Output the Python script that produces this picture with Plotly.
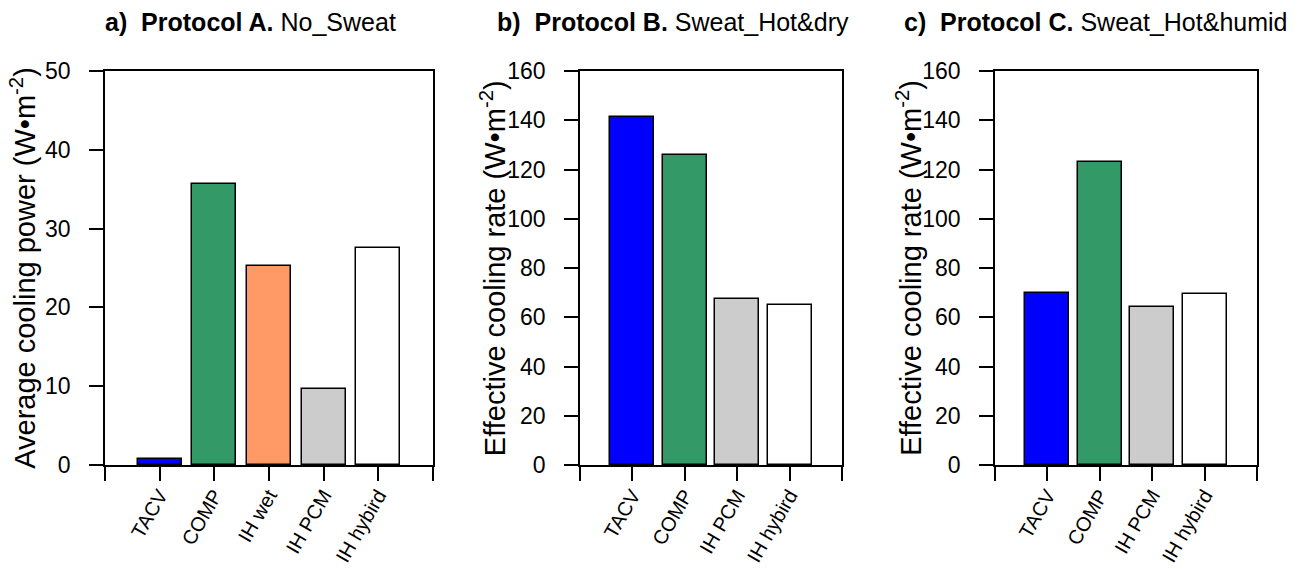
import plotly.graph_objects as go

# ---- data ----
cats_a = ["TACV", "COMP", "IH wet", "IH PCM", "IH hybird"]
vals_a = [0.8, 35.6, 25.3, 9.6, 27.6]
cols_a = ["#0000FF", "#339966", "#FF9966", "#CCCCCC", "#FFFFFF"]

cats_b = ["TACV", "COMP", "IH PCM", "IH hybird"]
vals_b = [141.3, 125.7, 67.3, 65.0]
cols_b = ["#0000FF", "#339966", "#CCCCCC", "#FFFFFF"]

cats_c = ["TACV", "COMP", "IH PCM", "IH hybird"]
vals_c = [70.0, 123.0, 64.0, 69.5]
cols_c = ["#0000FF", "#339966", "#CCCCCC", "#FFFFFF"]

ticks_a = [0, 10, 20, 30, 40, 50]
ticks_bc = [0, 20, 40, 60, 80, 100, 120, 140, 160]

titles = [
    ("<b>a)&nbsp; Protocol A.</b> No_Sweat", 0.1925),
    ("<b>b)&nbsp; Protocol B.</b> Sweat_Hot&amp;dry", 0.5165),
    ("<b>c)&nbsp; Protocol C.</b> Sweat_Hot&amp;humid", 0.841),
]
ytitles = [
    ("Average cooling power (W•m<sup>-2</sup>)", 0.0175),
    ("Effective cooling rate (W•m<sup>-2</sup>)", 0.3785),
    ("Effective cooling rate (W•m<sup>-2</sup>)", 0.6975),
]

W, H = 1303, 569
FONT = "Liberation Sans, Arial, sans-serif"

fig = go.Figure()

panels = [
    (cats_a, vals_a, cols_a, 0.81, [0, 50], ticks_a, (105, 433), "x", "y"),
    (cats_b, vals_b, cols_b, 0.84, [0, 160], ticks_bc, (580, 842), "x2", "y2"),
    (cats_c, vals_c, cols_c, 0.84, [0, 160], ticks_bc, (995, 1257), "x3", "y3"),
]

ydom = [1 - 465 / H, 1 - 71 / H]

for i, (cats, vals, cols, bw, yr, yt, (xl, xr), xa, ya) in enumerate(panels):
    n = len(cats)
    xs = list(range(1, n + 1))
    fig.add_trace(go.Bar(
        x=xs, y=vals, width=bw, xaxis=xa, yaxis=ya,
        marker=dict(color=cols, line=dict(color="black", width=1.5)),
        showlegend=False, hoverinfo="x+y",
    ))
    sfx = "" if i == 0 else str(i + 1)
    fig.layout["xaxis" + sfx] = dict(
        domain=[xl / W, xr / W], range=[0, n + 1], anchor=ya,
        tickvals=list(range(0, n + 2)), ticktext=[""] + cats + [""],
        tickangle=-60, ticks="outside", ticklen=14, tickwidth=1.5,
        tickcolor="black", showline=True, linecolor="black", linewidth=1.5,
        mirror=True, showgrid=False, zeroline=False, automargin=False,
        ticklabelstandoff=-5,
        tickfont=dict(family=FONT, size=20, color="black"),
    )
    fig.layout["yaxis" + sfx] = dict(
        domain=ydom, range=yr, anchor=xa,
        tickvals=yt, ticks="outside", ticklen=14, tickwidth=1.5,
        tickcolor="black", showline=True, linecolor="black", linewidth=1.5,
        mirror=True, showgrid=False, zeroline=False, automargin=False,
        ticklabelstandoff=14,
        tickfont=dict(family=FONT, size=23, color="black"),
    )

annotations = []
for txt, x in titles:
    annotations.append(dict(
        text=txt, x=x, y=1 - 22 / H, xref="paper", yref="paper",
        xanchor="center", yanchor="middle", showarrow=False,
        font=dict(family=FONT, size=25, color="black"),
    ))
for txt, x in ytitles:
    annotations.append(dict(
        text=txt, x=x, y=(ydom[0] + ydom[1]) / 2, xref="paper", yref="paper",
        xanchor="center", yanchor="middle", showarrow=False, textangle=-90,
        font=dict(family=FONT, size=29, color="black"),
    ))

fig.update_layout(
    width=W, height=H, margin=dict(l=0, r=0, t=0, b=0),
    paper_bgcolor="white", plot_bgcolor="white",
    annotations=annotations, bargap=0,
)

fig.write_html("out.html")
